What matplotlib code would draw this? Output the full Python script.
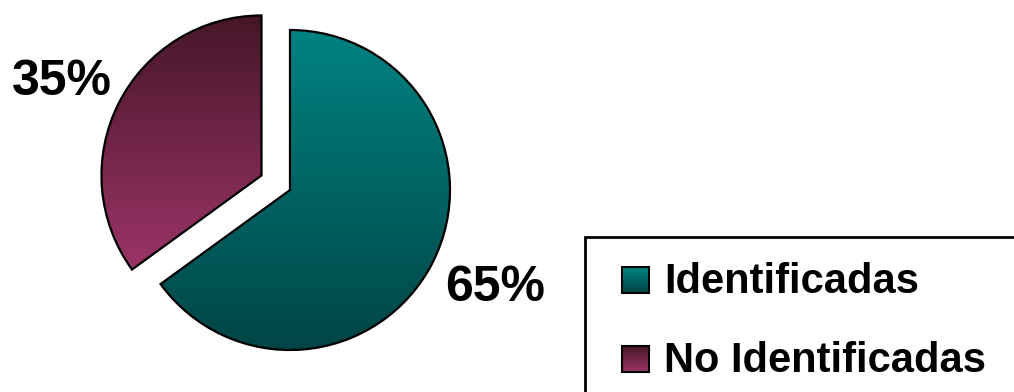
import numpy as np
import matplotlib
matplotlib.use("Agg")
import matplotlib.pyplot as plt
from matplotlib.patches import Rectangle
from matplotlib.colors import LinearSegmentedColormap

labels = ["Identificadas", "No Identificadas"]
values = [65, 35]
pct_labels = ["65%", "35%"]
explode_frac = [0, 0.2]

W, H = 1014, 392
R = 160
fig = plt.figure(figsize=(W / 100, H / 100), dpi=100)
ax = fig.add_axes([0, 0, 1, 1])

grads = [
    LinearSegmentedColormap.from_list("teal", ["#004545", "#008282"]),
    LinearSegmentedColormap.from_list("maroon", ["#9c3468", "#461628"]),
]

wedges, _ = ax.pie(values, startangle=90, counterclock=False, center=(290, 202),
                   radius=R, explode=[e * R for e in explode_frac],
                   wedgeprops=dict(edgecolor="black", linewidth=1.6))

grad_img = np.linspace(0, 1, 256).reshape(-1, 1)
for w, cm in zip(wedges, grads):
    w.set_facecolor("none")
    w.set_zorder(3)
    bb = w.get_path().get_extents(w.get_patch_transform())
    im = ax.imshow(grad_img, cmap=cm, origin="lower", aspect="auto",
                   extent=(bb.x0, bb.x1, bb.y0, bb.y1), zorder=2, interpolation="bilinear")
    im.set_clip_path(w)

fp = dict(family=["Liberation Sans", "DejaVu Sans"], weight="bold")
ax.text(445, H - 301, pct_labels[0], fontsize=36, ha="left", va="baseline", **fp)
ax.text(12, H - 95, pct_labels[1], fontsize=36, ha="left", va="baseline", **fp)

# legend box
ax.add_patch(Rectangle((585, -10), 500, (H - 237) + 10, facecolor="white",
                       edgecolor="black", linewidth=2, zorder=1))
ys = [293, 372]
for lab, y, cm in zip(labels, ys, grads):
    sq = Rectangle((622, H - y), 27, 26, facecolor="none", edgecolor="black",
                   linewidth=1.5, zorder=5)
    ax.add_patch(sq)
    im = ax.imshow(grad_img, cmap=cm, origin="lower", aspect="auto",
                   extent=(622, 649, H - y, H - y + 26), zorder=4, interpolation="bilinear")
    im.set_clip_path(sq)
    ax.text(664, H - y, lab, fontsize=30, ha="left", va="baseline", zorder=6, **fp)

ax.set_xlim(0, W)
ax.set_ylim(0, H)
ax.set_aspect("auto")
ax.axis("off")
fig.savefig("out.png", dpi=100)
